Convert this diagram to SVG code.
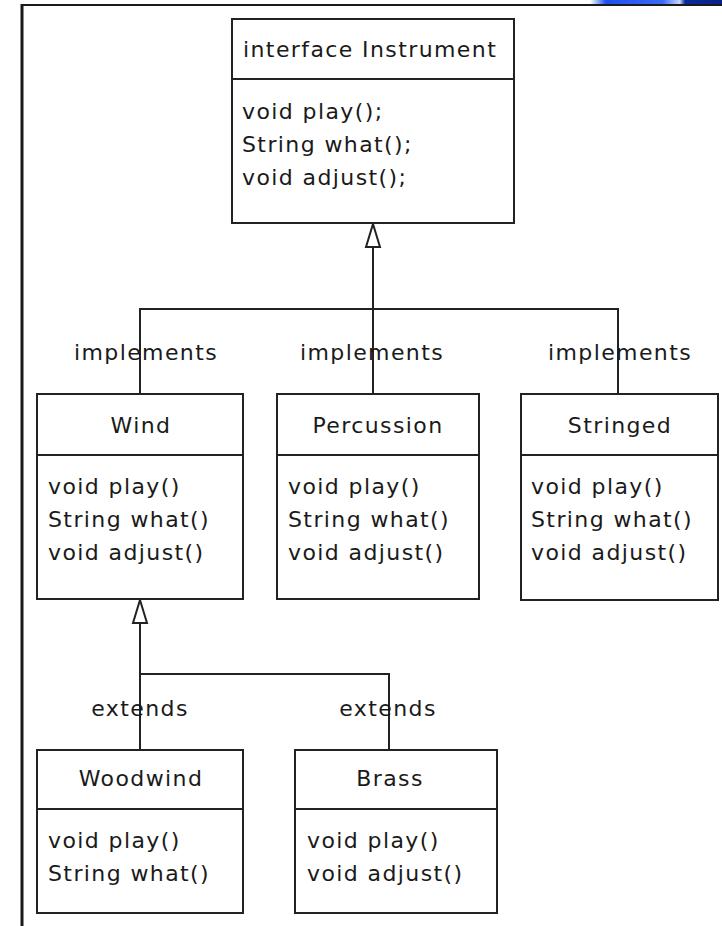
<svg xmlns="http://www.w3.org/2000/svg" width="722" height="926" viewBox="0 0 722 926">
<defs>
<style>
.box{fill:#fff;stroke:#222;stroke-width:2}
.ln{fill:none;stroke:#222;stroke-width:2}
.arr{fill:#fff;stroke:#222;stroke-width:2;stroke-linejoin:miter}
.t{font-family:"DejaVu Sans",Verdana,sans-serif;font-size:22px;letter-spacing:1.4px;fill:#1a1a1a}
.c{text-anchor:middle}
.lbl{font-family:"DejaVu Sans",Verdana,sans-serif;font-size:22px;letter-spacing:1.4px;fill:#1a1a1a;text-anchor:middle}
</style>
<linearGradient id="bl" x1="0" y1="0" x2="1" y2="0">
<stop offset="0" stop-color="#2a5cf0" stop-opacity="0"/>
<stop offset="0.12" stop-color="#1f4ff0"/>
<stop offset="0.55" stop-color="#3a6af5"/>
<stop offset="0.68" stop-color="#c8d8fa"/>
<stop offset="0.72" stop-color="#0a2a9a"/>
<stop offset="1" stop-color="#0a2288"/>
</linearGradient>
</defs>
<rect x="0" y="0" width="722" height="926" fill="#fff"/>
<rect x="590" y="0" width="132" height="4" fill="url(#bl)"/>
<g id="frame">
<line x1="22" y1="5" x2="722" y2="5" stroke="#1a1a1a" stroke-width="2"/>
<line x1="22" y1="4" x2="22" y2="926" stroke="#1a1a1a" stroke-width="3"/>
</g>
<g id="connectors">
<path class="ln" d="M373,394 V247"/>
<polygon class="arr" points="373,224 380,247 366,247"/>
<path class="ln" d="M140,394 V309 H618 V394"/>
<path class="ln" d="M140,750 V623"/>
<polygon class="arr" points="140,600 147,623 133,623"/>
<path class="ln" d="M140,674 H389 V750"/>
<text class="lbl" x="146" y="360">implements</text>
<text class="lbl" x="372" y="360">implements</text>
<text class="lbl" x="620" y="360">implements</text>
<text class="lbl" x="140" y="716">extends</text>
<text class="lbl" x="388" y="716">extends</text>
</g>
<g id="instrument">
<rect class="box" x="232" y="19" width="282" height="204"/>
<line class="ln" x1="232" y1="79" x2="514" y2="79"/>
<text class="t" x="243" y="57">interface Instrument</text>
<text class="t" x="242" y="119">void play();</text>
<text class="t" x="242" y="152">String what();</text>
<text class="t" x="242" y="185">void adjust();</text>
</g>
<g id="wind">
<rect class="box" x="37" y="394" width="206" height="205"/>
<line class="ln" x1="37" y1="455" x2="243" y2="455"/>
<text class="t c" x="141" y="433">Wind</text>
<text class="t" x="48" y="494">void play()</text>
<text class="t" x="48" y="527">String what()</text>
<text class="t" x="48" y="560">void adjust()</text>
</g>
<g id="percussion">
<rect class="box" x="277" y="394" width="202" height="205"/>
<line class="ln" x1="277" y1="455" x2="479" y2="455"/>
<text class="t c" x="378" y="433">Percussion</text>
<text class="t" x="288" y="494">void play()</text>
<text class="t" x="288" y="527">String what()</text>
<text class="t" x="288" y="560">void adjust()</text>
</g>
<g id="stringed">
<rect class="box" x="521" y="394" width="197" height="206"/>
<line class="ln" x1="521" y1="455" x2="718" y2="455"/>
<text class="t c" x="620" y="433">Stringed</text>
<text class="t" x="531" y="494">void play()</text>
<text class="t" x="531" y="527">String what()</text>
<text class="t" x="531" y="560">void adjust()</text>
</g>
<g id="woodwind">
<rect class="box" x="37" y="750" width="206" height="163"/>
<line class="ln" x1="37" y1="809" x2="243" y2="809"/>
<text class="t c" x="141" y="786">Woodwind</text>
<text class="t" x="48" y="848">void play()</text>
<text class="t" x="48" y="881">String what()</text>
</g>
<g id="brass">
<rect class="box" x="295" y="750" width="202" height="163"/>
<line class="ln" x1="295" y1="809" x2="497" y2="809"/>
<text class="t c" x="390" y="786">Brass</text>
<text class="t" x="307" y="848">void play()</text>
<text class="t" x="307" y="881">void adjust()</text>
</g>
</svg>
